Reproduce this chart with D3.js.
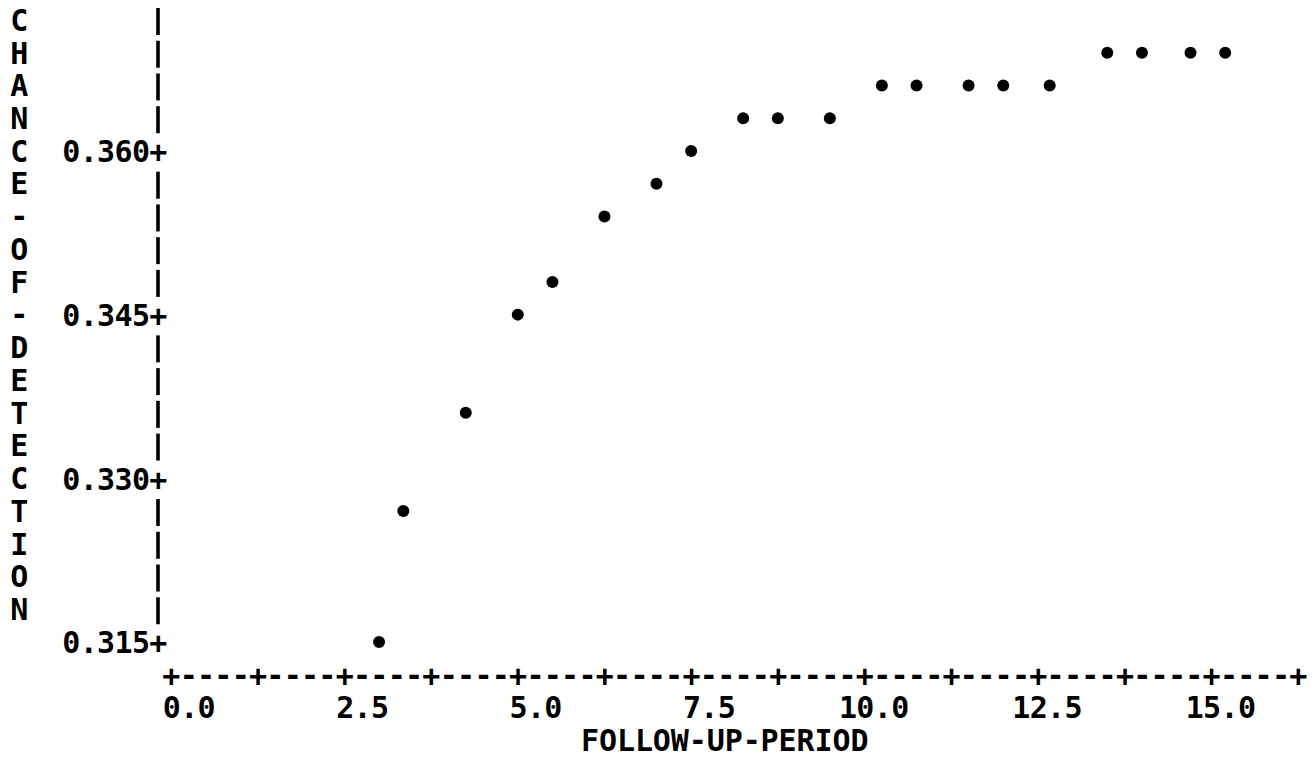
<!DOCTYPE html>
<html>
<head>
<meta charset="utf-8">
<script src="https://cdn.jsdelivr.net/npm/d3@7"></script>
<style>
  body { margin: 0; background: #fff; }
  svg text { font-family: "DejaVu Sans Mono", monospace; font-weight: bold; font-size: 30px; letter-spacing: -0.66px; fill: #000; }
</style>
</head>
<body>
<div class="canvas"></div>
<script>
// follow-up period (x) and chance of detection (y)
var period = [3.0, 3.35, 4.25, 5.0, 5.5, 6.25, 7.0, 7.5, 8.25, 8.75, 9.5,
              10.25, 10.75, 11.5, 12.0, 12.67, 13.5, 14.0, 14.7, 15.2];
var chance = [0.315, 0.327, 0.336, 0.345, 0.348, 0.354, 0.357, 0.360, 0.363, 0.363, 0.363,
              0.366, 0.366, 0.366, 0.366, 0.366, 0.369, 0.369, 0.369, 0.369];
var yTicks = [0.360, 0.345, 0.330, 0.315];
var xTicks = [0, 2.5, 5, 7.5, 10, 12.5, 15];
var yTitle = "CHANCE-OF-DETECTION";
var xTitle = "FOLLOW-UP-PERIOD";

var width = 1313, height = 758;
var charW = 17.4;       // width of one printer column
var axisX = 158;        // column of the vertical axis

var svg = d3.select("body div.canvas").append("svg")
	.attr("width", width)
	.attr("height", height);

// one printer row = 0.003 units
var y = d3.scaleLinear().domain([0.315, 0.372]).range([642, 20]);
var x = d3.scaleLinear().domain([0, 16.25]).range([171, 1298]);
var rowH = y(0.315) - y(0.318);

// vertical title, one letter per row
svg.selectAll("text.ytitle")
	.data(yTitle.split(""))
	.enter().append("text")
	.attr("class", "ytitle")
	.attr("x", 19)
	.attr("y", function(d, i) { return y(0.372) + i * rowH; })
	.attr("dy", "0.36em")
	.attr("text-anchor", "middle")
	.text(function(d) { return d; });

// vertical axis bars, every row that is not a tick row
var rows = d3.range(20).map(function(r) { return 0.372 - 0.003 * r; });
svg.selectAll("rect.bar")
	.data(rows.filter(function(v, r) { return r % 5 != 4; }))
	.enter().append("rect")
	.attr("class", "bar")
	.attr("x", axisX - 1.8)
	.attr("y", function(d) { return y(d) - 12; })
	.attr("width", 3.6)
	.attr("height", 27)
	.attr("fill", "#000");

// y axis: labels with a "+" tick glyph
var yAxis = d3.axisLeft(y)
	.tickValues(yTicks)
	.tickSize(0)
	.tickPadding(0)
	.tickFormat(function(d) { return d3.format(".3f")(d) + "+"; });
var gy = svg.append("g")
	.attr("transform", "translate(" + (axisX + charW / 2) + ",0)")
	.call(yAxis);
gy.select(".domain").remove();
gy.selectAll("text")
	.attr("font-family", null).attr("font-size", null)
	.attr("dy", "0.36em");

// horizontal axis line made of "+" and "-" columns
var axisRow = y(0.315) + rowH;
svg.selectAll("text.xline")
	.data(d3.range(66))
	.enter().append("text")
	.attr("class", "xline")
	.attr("x", function(i) { return x(i * 0.25); })
	.attr("y", axisRow)
	.attr("dy", "0.36em")
	.attr("text-anchor", "middle")
	.text(function(i) { return i % 5 == 0 ? "+" : "-"; });

// x tick labels, right-aligned two columns past the tick
var xAxis = d3.axisBottom(x)
	.tickValues(xTicks)
	.tickSize(0)
	.tickFormat(d3.format(".1f"));
var gx = svg.append("g")
	.attr("transform", "translate(0," + (axisRow + rowH) + ")")
	.call(xAxis);
gx.select(".domain").remove();
gx.selectAll("text")
	.attr("font-family", null).attr("font-size", null)
	.attr("text-anchor", "end")
	.attr("x", charW * 2.5)
	.attr("y", 0)
	.attr("dy", "0.36em");

svg.append("text")
	.attr("x", 581)
	.attr("y", axisRow + 2 * rowH)
	.attr("dy", "0.36em")
	.style("letter-spacing", "-0.1px")
	.text(xTitle);

// points
svg.selectAll("circle.pt")
	.data(period)
	.enter().append("circle")
	.attr("class", "pt")
	.attr("cx", function(d) { return x(d); })
	.attr("cy", function(d, i) { return y(chance[i]); })
	.attr("r", 6)
	.attr("fill", "#000");
</script>
</body>
</html>
